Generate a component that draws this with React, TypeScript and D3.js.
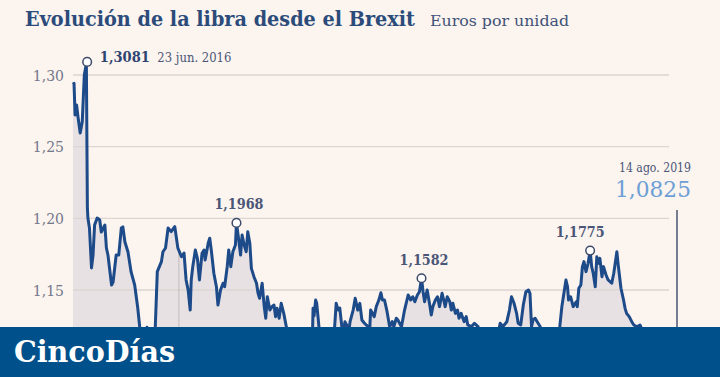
import React from "react";
import * as d3 from "d3";

// ---- data ----
const START = new Date(2016, 4, 26); // 26 May 2016
const END_DATE_LABEL = "14 ago. 2019";
const TITLE = "Evolución de la libra desde el Brexit";
const SUBTITLE = "Euros por unidad";

// days since START
const dayOffsets = [
  0, 2, 4, 7, 10, 14, 18, 22, 26, 28, 29, 32, 36, 39, 42, 47, 52, 55, 62, 65, 68, 75, 78, 84, 89, 94, 97, 101, 107,
  113, 120, 126, 130, 133, 136, 139, 142, 144, 146, 150, 154, 157, 160, 164, 172, 175, 180, 185, 191, 198, 204,
  211, 216, 220, 224, 228, 230, 233, 238, 242, 246, 251, 255, 257, 263, 266, 269, 274, 279, 282, 287, 292, 295,
  300, 303, 307, 311, 316, 318, 322, 326, 329, 333, 337, 340, 344, 347, 352, 357, 360, 363, 368, 372, 375, 378,
  383, 387, 391, 394, 397, 401, 405, 410, 415, 420, 425, 432, 440, 448, 455, 460, 465, 467, 469, 472, 474, 477,
  479, 483, 490, 497, 503, 509, 512, 516, 519, 523, 525, 529, 534, 536, 539, 545, 549, 554, 558, 562, 567, 574,
  577, 579, 586, 590, 595, 599, 602, 606, 611, 616, 621, 624, 629, 632, 639, 645, 652, 657, 661, 665, 670, 674,
  678, 681, 684, 689, 694, 697, 700, 705, 709, 713, 718, 722, 724, 728, 733, 736, 739, 744, 748, 751, 755, 761,
  765, 768, 775, 781, 788, 795, 802, 810, 817, 823, 831, 836, 844, 849, 853, 858, 863, 866, 871, 876, 881, 886,
  889, 892, 895, 899, 903, 909, 915, 922, 930, 938, 944, 947, 951, 955, 959, 962, 964, 968, 973, 979, 981, 984,
  988, 991, 994, 998, 1002, 1006, 1009, 1012, 1016, 1019, 1022, 1025, 1029, 1032, 1037, 1041, 1048, 1052, 1058,
  1061, 1066, 1071, 1074, 1077, 1082, 1087, 1091, 1097, 1103, 1106, 1112, 1120, 1128, 1136, 1145, 1152, 1160,
  1168, 1175,
];

const values = [
  1.2935, 1.2942, 1.2721, 1.2791, 1.27, 1.2595, 1.2674, 1.3, 1.3081, 1.2072, 1.2002, 1.1933, 1.1654, 1.1744,
  1.1953, 1.2002, 1.1988, 1.1905, 1.1953, 1.1793, 1.1744, 1.1535, 1.1556, 1.1744, 1.1744, 1.1933, 1.194, 1.1835,
  1.1765, 1.1626, 1.1535, 1.1374, 1.1235, 1.11, 1.1, 1.095, 1.105, 1.124, 1.108, 1.098, 1.105, 1.112, 1.1235,
  1.1628, 1.1698, 1.1767, 1.1793, 1.1933, 1.1907, 1.1942, 1.1793, 1.1732, 1.1758, 1.157, 1.15, 1.136, 1.157,
  1.1663, 1.1779, 1.1721, 1.157, 1.1756, 1.1779, 1.1709, 1.1826, 1.1861, 1.1779, 1.1617, 1.1523, 1.1395, 1.15,
  1.1547, 1.1523, 1.1663, 1.1779, 1.1663, 1.1767, 1.1814, 1.1968, 1.1861, 1.1744, 1.1884, 1.1814, 1.1767, 1.1907,
  1.1826, 1.1651, 1.1593, 1.1547, 1.1477, 1.1442, 1.1547, 1.1384, 1.1303, 1.1453, 1.136, 1.1384, 1.1395, 1.1314,
  1.1372, 1.1303, 1.1407, 1.1337, 1.1244, 1.112, 1.105, 1.1, 1.095, 1.085, 1.08, 1.09, 1.105, 1.1372, 1.132,
  1.143, 1.141, 1.13, 1.122, 1.115, 1.112, 1.115, 1.117, 1.1244, 1.1407, 1.136, 1.1374, 1.1244, 1.119, 1.1279,
  1.1244, 1.12, 1.1279, 1.136, 1.1442, 1.136, 1.1407, 1.1291, 1.1268, 1.1244, 1.121, 1.136, 1.1314, 1.1384, 1.143,
  1.1481, 1.143, 1.143, 1.1349, 1.1244, 1.1279, 1.1244, 1.1303, 1.1291, 1.1244, 1.136, 1.1465, 1.143, 1.1453,
  1.1418, 1.1465, 1.1488, 1.1582, 1.1488, 1.1418, 1.15, 1.1395, 1.1326, 1.1384, 1.143, 1.1453, 1.1384, 1.1477,
  1.1418, 1.1384, 1.1453, 1.1418, 1.136, 1.1407, 1.1337, 1.136, 1.1303, 1.1337, 1.1279, 1.1314, 1.1256, 1.1244,
  1.1268, 1.1244, 1.115, 1.108, 1.1, 1.102, 1.112, 1.1268, 1.1244, 1.1279, 1.136, 1.1453, 1.1407, 1.1337, 1.1268,
  1.1256, 1.1395, 1.1488, 1.15, 1.1477, 1.1244, 1.1291, 1.1303, 1.1279, 1.1244, 1.112, 1.105, 1.1, 1.108, 1.112,
  1.1244, 1.1384, 1.1477, 1.157, 1.1523, 1.143, 1.1453, 1.1384, 1.1418, 1.1384, 1.1512, 1.1535, 1.1663, 1.1698,
  1.1628, 1.1686, 1.1775, 1.1663, 1.1617, 1.1523, 1.1732, 1.1686, 1.1721, 1.1593, 1.1663, 1.1605, 1.157, 1.1547,
  1.1617, 1.1767, 1.1663, 1.1512, 1.143, 1.1372, 1.1337, 1.1314, 1.1279, 1.1256, 1.1244, 1.1256, 1.1233, 1.118,
  1.112, 1.11, 1.105, 1.098, 1.092, 1.088, 1.085, 1.0825,
];

const gridTicks = [1.1, 1.15, 1.2, 1.25, 1.3];
const labelTicks = [1.15, 1.2, 1.25, 1.3];
const markerDays = [206];
const peakDays = [26, 318, 678, 1006];
const peakDateLabels = ["23 jun. 2016", "", "", ""];

// ---- styling ----
const C = {
  bg: "#fcf4ee",
  grid: "#dcd5d2",
  area: "#e7e1e3",
  line: "#1d4a88",
  title: "#2b4b7b",
  sub: "#3e5279",
  tick: "#72778a",
  ann: "#4a5677",
  annStrong: "#2f4470",
  last: "#6d9fd6",
  banner: "#00508b",
};
const FONT = "DejaVu Serif, serif";

const fmt4 = (v: number) => d3.format(".4f")(v).replace(".", ",");
const fmt2 = (v: number) => d3.format(".2f")(v).replace(".", ",");

export default function App() {
  const W = 720;
  const H = 377;
  const data = dayOffsets.map((d, i) => ({ date: d3.timeDay.offset(START, d), value: values[i] }));
  const last = data[data.length - 1];

  const x = d3.scaleTime().domain([START, last.date]).range([73, 677]);
  const y = d3.scaleLinear().domain([1.15, 1.3]).range([290, 75]);

  const line = d3
    .line<{ date: Date; value: number }>()
    .x((d) => x(d.date))
    .y((d) => y(d.value));
  const area = d3
    .area<{ date: Date; value: number }>()
    .x((d) => x(d.date))
    .y0(y(1.05))
    .y1((d) => y(d.value));

  const peaks = peakDays.map((pd, i) => {
    const p = data.find((d) => +d.date === +d3.timeDay.offset(START, pd))!;
    return { ...p, dateLabel: peakDateLabels[i], i };
  });
  const gridX1 = 669;

  return (
    <svg
      width={W}
      height={H}
      viewBox={`0 0 ${W} ${H}`}
      style={{ position: "absolute", left: 0, top: 0, display: "block" }}
      fontFamily={FONT}
    >
      <defs>
        <clipPath id="areaClip">
          <path d={area(data) || ""} />
        </clipPath>
      </defs>
      <rect x={0} y={0} width={W} height={H} fill={C.bg} />

      {/* title */}
      <text
        x={25}
        y={26}
        fontSize={19.5}
        fontWeight={700}
        fill={C.title}
        style={{ fontStretch: "condensed" }}
        textLength={390}
        lengthAdjust="spacingAndGlyphs"
      >
        {TITLE}
      </text>
      <text x={430} y={26} fontSize={15} fill={C.sub} textLength={139} lengthAdjust="spacingAndGlyphs">
        {SUBTITLE}
      </text>

      {/* area */}
      <path d={area(data) || ""} fill={C.area} />

      {/* horizontal gridlines */}
      {gridTicks.map((t) => (
        <line key={t} x1={x(START)} x2={gridX1} y1={y(t)} y2={y(t)} stroke={C.grid} strokeWidth={1.3} />
      ))}
      {labelTicks.map((t) => (
        <text key={t} x={64} y={y(t) + 5.5} fontSize={14} fill={C.tick} textAnchor="end">
          {fmt2(t)}
        </text>
      ))}

      {/* vertical marker clipped to area */}
      {markerDays.map((md) => {
        const xx = x(d3.timeDay.offset(START, md));
        return (
          <line
            key={md}
            x1={xx}
            x2={xx}
            y1={y(1.3)}
            y2={H}
            stroke="#c9c2c4"
            strokeWidth={1.2}
            clipPath="url(#areaClip)"
          />
        );
      })}

      {/* line */}
      <path d={line(data) || ""} fill="none" stroke={C.line} strokeWidth={3} strokeLinejoin="round" />

      {/* end marker */}
      <line x1={x(last.date)} x2={x(last.date)} y1={210} y2={y(last.value)} stroke="#4a5670" strokeWidth={1.5} />
      <text x={691} y={172} fontSize={12.5} fill={C.ann} textAnchor="end" textLength={72} lengthAdjust="spacingAndGlyphs">
        {END_DATE_LABEL}
      </text>
      <text x={691} y={197} fontSize={22.5} fill={C.last} textAnchor="end" textLength={76} lengthAdjust="spacingAndGlyphs">
        {fmt4(last.value)}
      </text>

      {/* peaks */}
      {peaks.map((p) => {
        const px = x(p.date);
        const py = y(p.value);
        if (p.i === 0) {
          return (
            <g key={p.i}>
              <circle cx={px + 0.8} cy={py - 1.5} r={4.3} fill="#fff" stroke="#3d4a6a" strokeWidth={1.5} />
              <text x={px + 13.5} y={py - 1} fontSize={15} fontWeight={700} fill={C.annStrong} textLength={50} lengthAdjust="spacingAndGlyphs">
                {fmt4(p.value)}
              </text>
              <text x={px + 71} y={py - 1} fontSize={12.5} fill={C.ann} textLength={74} lengthAdjust="spacingAndGlyphs">
                {p.dateLabel}
              </text>
            </g>
          );
        }
        const dx = p.i === 3 ? -10 : 2.5;
        return (
          <g key={p.i}>
            <circle cx={px} cy={py} r={4.3} fill="#fff" stroke="#3d4a6a" strokeWidth={1.5} />
            <text x={px + dx} y={py - 13.5} fontSize={15} fontWeight={700} fill={C.ann} textAnchor="middle" textLength={49} lengthAdjust="spacingAndGlyphs">
              {fmt4(p.value)}
            </text>
          </g>
        );
      })}

      {/* banner */}
      <rect x={0} y={327} width={W} height={H - 327} fill={C.banner} />
      <text x={14} y={362} fontSize={29} fontWeight={700} fill="#fff" textLength={161} lengthAdjust="spacingAndGlyphs">
        CincoDías
      </text>
    </svg>
  );
}
